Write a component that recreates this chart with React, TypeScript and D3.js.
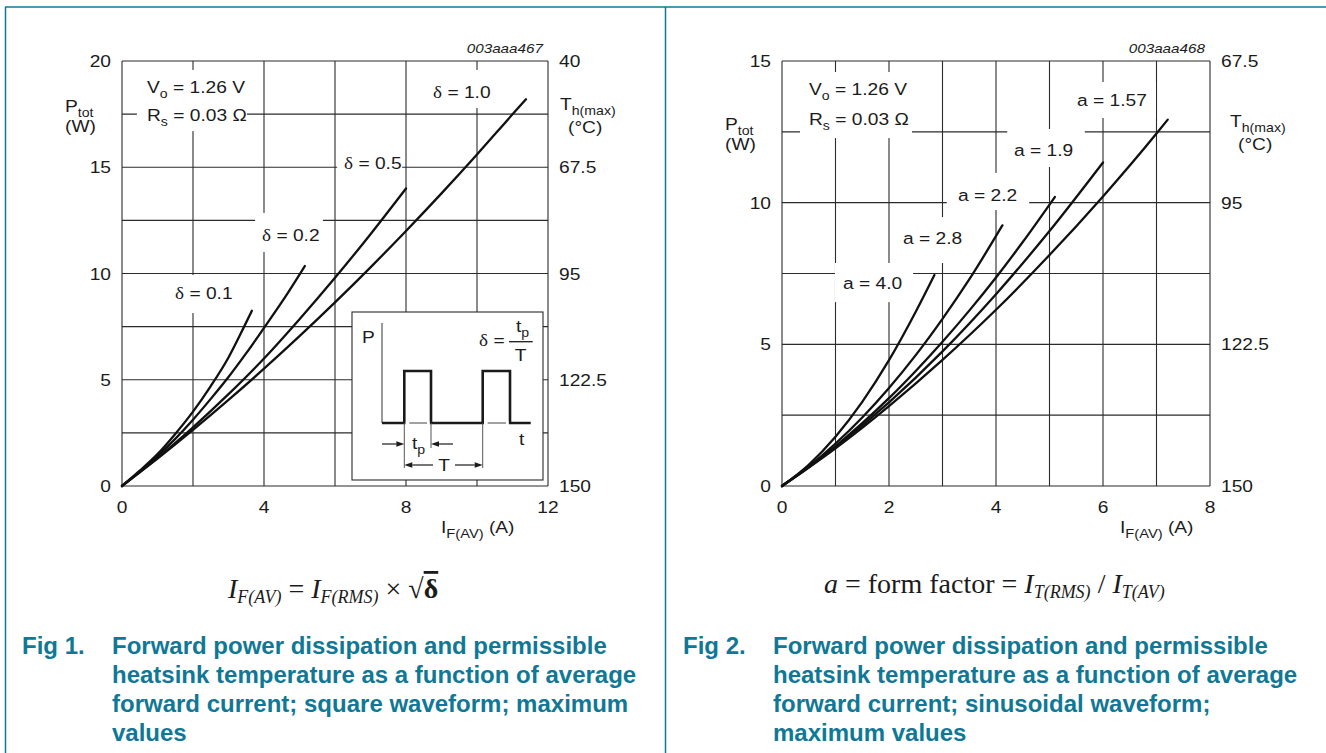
import React from "react";
import * as d3 from "d3";

// ---------------- Fig 1: square waveform ----------------
const fig1XTickValues = [0, 4, 8, 12];
const fig1XGridValues = [0, 2, 4, 6, 8, 10, 12];
const fig1YTickValues = [0, 5, 10, 15, 20];
const fig1YGridValues = [0, 2.5, 5, 7.5, 10, 12.5, 15, 17.5, 20];
const fig1TempTickValues = [150, 122.5, 95, 67.5, 40];
const fig1DutyLabels = ["0.1", "0.2", "0.5", "1.0"];

const fig1CurrentD01 = [0, 0.5, 1, 1.5, 2, 2.5, 3, 3.44, 3.66];
const fig1PowerD01 = [0, 0.72, 1.5, 2.45, 3.5, 4.7, 6.05, 7.5, 8.25];
const fig1CurrentD02 = [0, 0.5, 1, 1.5, 2, 2.5, 3, 3.5, 4, 4.5, 5, 5.15];
const fig1PowerD02 = [0, 0.68, 1.41, 2.22, 3.12, 4.1, 5.13, 6.25, 7.44, 8.65, 9.95, 10.35];
const fig1CurrentD05 = [0, 0.5, 1, 2, 3, 4, 5, 6, 7, 8];
const fig1PowerD05 = [0, 0.65, 1.32, 2.76, 4.32, 6.0, 7.85, 9.8, 11.85, 14.0];
const fig1CurrentD10 = [0, 0.5, 1, 2, 3, 4, 5, 6, 7, 8, 9, 10, 11, 11.38];
const fig1PowerD10 = [0, 0.64, 1.29, 2.64, 4.05, 5.52, 7.05, 8.64, 10.29, 12.0, 13.77, 15.6, 17.49, 18.2];

// ---------------- Fig 2: sinusoidal waveform ----------------
const fig2XTickValues = [0, 2, 4, 6, 8];
const fig2XGridValues = [0, 1, 2, 3, 4, 5, 6, 7, 8];
const fig2YTickValues = [0, 5, 10, 15];
const fig2YGridValues = [0, 2.5, 5, 7.5, 10, 12.5, 15];
const fig2TempTickValues = [150, 122.5, 95, 67.5];
const fig2FormLabels = ["4.0", "2.8", "2.2", "1.9", "1.57"];

const fig2CurrentA40 = [0, 0.5, 1, 1.5, 2, 2.5, 2.85];
const fig2PowerA40 = [0, 0.75, 1.74, 2.97, 4.44, 6.15, 7.45];
const fig2CurrentA28 = [0, 0.5, 1, 1.5, 2, 2.5, 3, 3.5, 4.12];
const fig2PowerA28 = [0, 0.69, 1.5, 2.42, 3.46, 4.62, 5.9, 7.29, 9.2];
const fig2CurrentA22 = [0, 0.5, 1, 1.5, 2, 2.5, 3, 3.5, 4, 4.5, 5.1];
const fig2PowerA22 = [0, 0.67, 1.41, 2.22, 3.1, 4.06, 5.09, 6.19, 7.36, 8.61, 10.2];
const fig2CurrentA19 = [0, 0.5, 1, 2, 3, 4, 5, 6];
const fig2PowerA19 = [0, 0.66, 1.37, 2.95, 4.75, 6.77, 9.0, 11.42];
const fig2CurrentA157 = [0, 0.5, 1, 2, 3, 4, 5, 6, 7, 7.21];
const fig2PowerA157 = [0, 0.65, 1.33, 2.82, 4.45, 6.22, 8.15, 10.22, 12.44, 12.93];

const fig1CaptionLines = [
  "Forward power dissipation and permissible",
  "heatsink temperature as a function of average",
  "forward current; square waveform; maximum",
  "values",
];
const fig2CaptionLines = [
  "Forward power dissipation and permissible",
  "heatsink temperature as a function of average",
  "forward current; sinusoidal waveform;",
  "maximum values",
];

const SANS = "'Liberation Sans', Arial, Helvetica, sans-serif";
const SERIF = "'Liberation Serif', 'Times New Roman', serif";
const INK = "#1b1b1b";
const GRID = "#2b2b2b";
const TEAL = "#0f7896";
const SX = 1.13;

type LblProps = {
  x: number;
  y: number;
  anchor?: string;
  size?: number;
  italic?: boolean;
  children: React.ReactNode;
};
const Lbl = ({ x, y, anchor = "start", size = 17, italic = false, children }: LblProps) => (
  <text
    transform={`translate(${x},${y}) scale(${SX},1)`}
    textAnchor={anchor as any}
    fontSize={size}
    fontFamily={SANS}
    fontStyle={italic ? "italic" : "normal"}
    fill={INK}
  >
    {children}
  </text>
);

const Sub = ({ children, size = 12.5, shift = 4.5 }: { children: React.ReactNode; size?: number; shift?: number }) => (
  <tspan fontSize={size} baselineShift={String(-shift)}>
    {children}
  </tspan>
);

type Series = { label: string; I: number[]; P: number[] };

type ChartProps = {
  xDomain: [number, number];
  xRange: [number, number];
  yDomain: [number, number];
  yRange: [number, number];
  tDomain: [number, number];
  xGrid: number[];
  yGrid: number[];
  xTicks: number[];
  yTicks: number[];
  tTicks: number[];
  series: Series[];
  boxes: [number, number, number, number][];
  code: string;
  children?: React.ReactNode;
  over?: React.ReactNode;
};

function Chart(p: ChartProps) {
  const x = d3.scaleLinear().domain(p.xDomain).range(p.xRange);
  const y = d3.scaleLinear().domain(p.yDomain).range(p.yRange);
  const t = d3.scaleLinear().domain(p.tDomain).range(p.yRange);
  const line = d3
    .line<[number, number]>()
    .x((d) => x(d[0]))
    .y((d) => y(d[1]))
    .curve(d3.curveMonotoneX);
  const [x0, x1] = p.xRange;
  const [yb, yt] = p.yRange;
  return (
    <g>
      {p.xGrid.map((v) => (
        <line key={"xg" + v} x1={x(v)} x2={x(v)} y1={yb} y2={yt} stroke={GRID} strokeWidth={1.1} />
      ))}
      {p.yGrid.map((v) => (
        <line key={"yg" + v} x1={x0} x2={x1} y1={y(v)} y2={y(v)} stroke={GRID} strokeWidth={1.1} />
      ))}
      {p.boxes.map((b, i) => (
        <rect key={"b" + i} x={x(b[0])} y={y(b[3])} width={x(b[1]) - x(b[0])} height={y(b[2]) - y(b[3])} fill="#fff" />
      ))}
      {p.over}
      {p.series.map((s) => (
        <path
          key={s.label}
          d={line(s.I.map((v, i) => [v, s.P[i]] as [number, number])) || ""}
          fill="none"
          stroke="#111"
          strokeWidth={2.3}
          strokeLinecap="round"
          strokeLinejoin="round"
        />
      ))}
      {p.yTicks.map((v) => (
        <Lbl key={"yt" + v} x={x0 - 11} y={y(v) + 6} anchor="end">
          {String(v)}
        </Lbl>
      ))}
      {p.tTicks.map((v) => (
        <Lbl key={"tt" + v} x={x1 + 11} y={t(v) + 6}>
          {String(v)}
        </Lbl>
      ))}
      {p.xTicks.map((v) => (
        <Lbl key={"xt" + v} x={x(v)} y={513} anchor="middle">
          {String(v)}
        </Lbl>
      ))}
      <Lbl x={x1 - 5} y={53} anchor="end" size={13.5} italic>
        {p.code}
      </Lbl>
      {p.children}
    </g>
  );
}

function Arrow({ x1, x2, y }: { x1: number; x2: number; y: number }) {
  const dir = x2 > x1 ? 1 : -1;
  const hl = 8;
  return (
    <g>
      <line x1={x1} x2={x2 - dir * hl} y1={y} y2={y} stroke={INK} strokeWidth={1.2} />
      <path d={`M${x2},${y} L${x2 - dir * hl},${y - 2.8} L${x2 - dir * hl},${y + 2.8} Z`} fill={INK} />
    </g>
  );
}

function Inset() {
  const L = 352,
    T = 312,
    W = 191,
    H = 168;
  const base = 423,
    top = 371;
  const ax = 382;
  const r1 = 404.3,
    f1 = 431,
    r2 = 482.7,
    f2 = 510,
    end = 530.7;
  return (
    <g>
      <rect x={L} y={T} width={W} height={H} fill="#fff" stroke={GRID} strokeWidth={1.1} />
      <line x1={ax} x2={ax} y1={323} y2={base} stroke="#555" strokeWidth={1.2} />
      <path
        d={`M${ax},${base} H${r1} V${top} H${f1} V${base} H${r2} V${top} H${f2} V${base} H${end}`}
        fill="none"
        stroke="#1a1a1a"
        strokeWidth={2.6}
      />
      <rect x={r1 + 1.5} y={base - 1.6} width={f1 - r1 - 3} height={3.2} fill="#fff" />
      <rect x={r2 + 1.5} y={base - 1.6} width={f2 - r2 - 3} height={3.2} fill="#fff" />
      <line x1={r1 + 5} x2={f1 - 4} y1={base} y2={base} stroke="#444" strokeWidth={1} />
      <line x1={r2 + 5} x2={f2 - 4} y1={base} y2={base} stroke="#444" strokeWidth={1} />
      <line x1={r1} x2={r1} y1={base} y2={468} stroke="#555" strokeWidth={1} />
      <line x1={f1} x2={f1} y1={base} y2={448} stroke="#555" strokeWidth={1} />
      <line x1={r2} x2={r2} y1={base} y2={468} stroke="#555" strokeWidth={1} />
      <Arrow x1={382} x2={r1} y={444} />
      <Arrow x1={453} x2={f1} y={444} />
      <Arrow x1={433} x2={r1} y={465} />
      <Arrow x1={455} x2={r2} y={465} />
      <Lbl x={412} y={449}>
        t<Sub>p</Sub>
      </Lbl>
      <Lbl x={444} y={471} anchor="middle">
        T
      </Lbl>
      <Lbl x={362} y={343}>
        P
      </Lbl>
      <Lbl x={519} y={445}>
        t
      </Lbl>
      <Lbl x={479} y={346}>
        <tspan fontFamily={SERIF}>δ</tspan> =
      </Lbl>
      <Lbl x={516} y={332}>
        t<Sub>p</Sub>
      </Lbl>
      <line x1={509} x2={532.7} y1={341.7} y2={341.7} stroke={INK} strokeWidth={1.3} />
      <Lbl x={520.5} y={360.5} anchor="middle">
        T
      </Lbl>
    </g>
  );
}

function Caption({ x0, x1, fig, lines }: { x0: number; x1: number; fig: string; lines: string[] }) {
  return (
    <g fontFamily={SANS} fontWeight="bold" fontSize={24} fill={TEAL}>
      <text x={x0} y={654}>
        {fig}
      </text>
      {lines.map((l, i) => (
        <text key={i} x={x1} y={654 + 29 * i}>
          {l}
        </text>
      ))}
    </g>
  );
}

export default function App() {
  const fig1Series: Series[] = [
    { label: fig1DutyLabels[0], I: fig1CurrentD01, P: fig1PowerD01 },
    { label: fig1DutyLabels[1], I: fig1CurrentD02, P: fig1PowerD02 },
    { label: fig1DutyLabels[2], I: fig1CurrentD05, P: fig1PowerD05 },
    { label: fig1DutyLabels[3], I: fig1CurrentD10, P: fig1PowerD10 },
  ];
  const fig2Series: Series[] = [
    { label: fig2FormLabels[0], I: fig2CurrentA40, P: fig2PowerA40 },
    { label: fig2FormLabels[1], I: fig2CurrentA28, P: fig2PowerA28 },
    { label: fig2FormLabels[2], I: fig2CurrentA22, P: fig2PowerA22 },
    { label: fig2FormLabels[3], I: fig2CurrentA19, P: fig2PowerA19 },
    { label: fig2FormLabels[4], I: fig2CurrentA157, P: fig2PowerA157 },
  ];

  return (
    <svg
      width={1326}
      height={753}
      viewBox="0 0 1326 753"
      style={{ position: "absolute", left: 0, top: 0, background: "#fff" }}
    >
      <rect x={0} y={0} width={1326} height={753} fill="#fff" />
      <line x1={5} x2={1326} y1={7} y2={7} stroke={TEAL} strokeWidth={1.5} />
      <line x1={5.5} x2={5.5} y1={7} y2={753} stroke={TEAL} strokeWidth={1.5} />
      <line x1={665.5} x2={665.5} y1={7} y2={753} stroke={TEAL} strokeWidth={1.5} />

      <Chart
        xDomain={[0, 12]}
        xRange={[122, 548]}
        yDomain={[0, 20]}
        yRange={[486, 61]}
        tDomain={[150, 40]}
        xGrid={fig1XGridValues}
        yGrid={fig1YGridValues}
        xTicks={fig1XTickValues}
        yTicks={fig1YTickValues}
        tTicks={fig1TempTickValues}
        series={fig1Series}
        code="003aaa467"
        boxes={[
          [0.42, 3.52, 16.7, 19.58],
          [8.54, 10.56, 17.79, 19.58],
          [6.06, 7.89, 14.49, 15.72],
          [3.75, 5.66, 11.01, 12.85],
          [1.35, 3.21, 8.14, 9.93],
        ]}
        over={<Inset />}
      >
        <Lbl x={147} y={93}>
          V<Sub>o</Sub> = 1.26 V
        </Lbl>
        <Lbl x={147} y={121}>
          R<Sub>s</Sub> = 0.03 Ω
        </Lbl>
        <Lbl x={433} y={98}>
          <tspan fontFamily={SERIF}>δ</tspan> = {fig1DutyLabels[3]}
        </Lbl>
        <Lbl x={344} y={169}>
          <tspan fontFamily={SERIF}>δ</tspan> = {fig1DutyLabels[2]}
        </Lbl>
        <Lbl x={262} y={241}>
          <tspan fontFamily={SERIF}>δ</tspan> = {fig1DutyLabels[1]}
        </Lbl>
        <Lbl x={175} y={299}>
          <tspan fontFamily={SERIF}>δ</tspan> = {fig1DutyLabels[0]}
        </Lbl>
        <Lbl x={65} y={112}>
          P<Sub>tot</Sub>
        </Lbl>
        <Lbl x={65} y={132}>
          (W)
        </Lbl>
        <Lbl x={560} y={110}>
          T<Sub>h(max)</Sub>
        </Lbl>
        <Lbl x={568} y={133}>
          (°C)
        </Lbl>
        <Lbl x={441} y={533}>
          I<Sub size={13}>F(AV)</Sub> (A)
        </Lbl>
      </Chart>

      <Chart
        xDomain={[0, 8]}
        xRange={[782, 1210]}
        yDomain={[0, 15]}
        yRange={[486, 61]}
        tDomain={[150, 67.5]}
        xGrid={fig2XGridValues}
        yGrid={fig2YGridValues}
        xTicks={fig2XTickValues}
        yTicks={fig2YTickValues}
        tTicks={fig2TempTickValues}
        series={fig2Series}
        code="003aaa468"
        boxes={[
          [0.336, 2.43, 12.28, 14.61],
          [5.35, 6.99, 12.99, 14.26],
          [4.21, 5.66, 11.26, 12.6],
          [3.08, 4.62, 9.74, 11.05],
          [2.11, 3.51, 7.87, 9.49],
          [0.99, 2.45, 6.49, 7.87],
        ]}
      >
        <Lbl x={809} y={95}>
          V<Sub>o</Sub> = 1.26 V
        </Lbl>
        <Lbl x={809} y={125}>
          R<Sub>s</Sub> = 0.03 Ω
        </Lbl>
        <Lbl x={1077} y={106}>
          a = {fig2FormLabels[4]}
        </Lbl>
        <Lbl x={1014} y={156}>
          a = {fig2FormLabels[3]}
        </Lbl>
        <Lbl x={958} y={201}>
          a = {fig2FormLabels[2]}
        </Lbl>
        <Lbl x={903} y={244}>
          a = {fig2FormLabels[1]}
        </Lbl>
        <Lbl x={843} y={289}>
          a = {fig2FormLabels[0]}
        </Lbl>
        <Lbl x={725} y={130}>
          P<Sub>tot</Sub>
        </Lbl>
        <Lbl x={725} y={150}>
          (W)
        </Lbl>
        <Lbl x={1230} y={127}>
          T<Sub>h(max)</Sub>
        </Lbl>
        <Lbl x={1238} y={150}>
          (°C)
        </Lbl>
        <Lbl x={1120} y={533}>
          I<Sub size={13}>F(AV)</Sub> (A)
        </Lbl>
      </Chart>

      <text x={228} y={598} fontFamily={SERIF} fontSize={28} fill={INK}>
        <tspan fontStyle="italic">I</tspan>
        <tspan fontStyle="italic" fontSize={18} baselineShift="-5">
          F(AV)
        </tspan>
        <tspan> = </tspan>
        <tspan fontStyle="italic">I</tspan>
        <tspan fontStyle="italic" fontSize={18} baselineShift="-5">
          F(RMS)
        </tspan>
        <tspan> × √</tspan>
        <tspan fontWeight="bold" style={{ textDecoration: "overline" }}>
          δ
        </tspan>
      </text>
      <text x={824} y={593} fontFamily={SERIF} fontSize={28} fill={INK}>
        <tspan fontStyle="italic">a</tspan>
        <tspan> = form factor = </tspan>
        <tspan fontStyle="italic">I</tspan>
        <tspan fontStyle="italic" fontSize={18} baselineShift="-5">
          T(RMS)
        </tspan>
        <tspan> / </tspan>
        <tspan fontStyle="italic">I</tspan>
        <tspan fontStyle="italic" fontSize={18} baselineShift="-5">
          T(AV)
        </tspan>
      </text>

      <Caption x0={22} x1={112} fig="Fig 1." lines={fig1CaptionLines} />
      <Caption x0={683} x1={773} fig="Fig 2." lines={fig2CaptionLines} />
    </svg>
  );
}
